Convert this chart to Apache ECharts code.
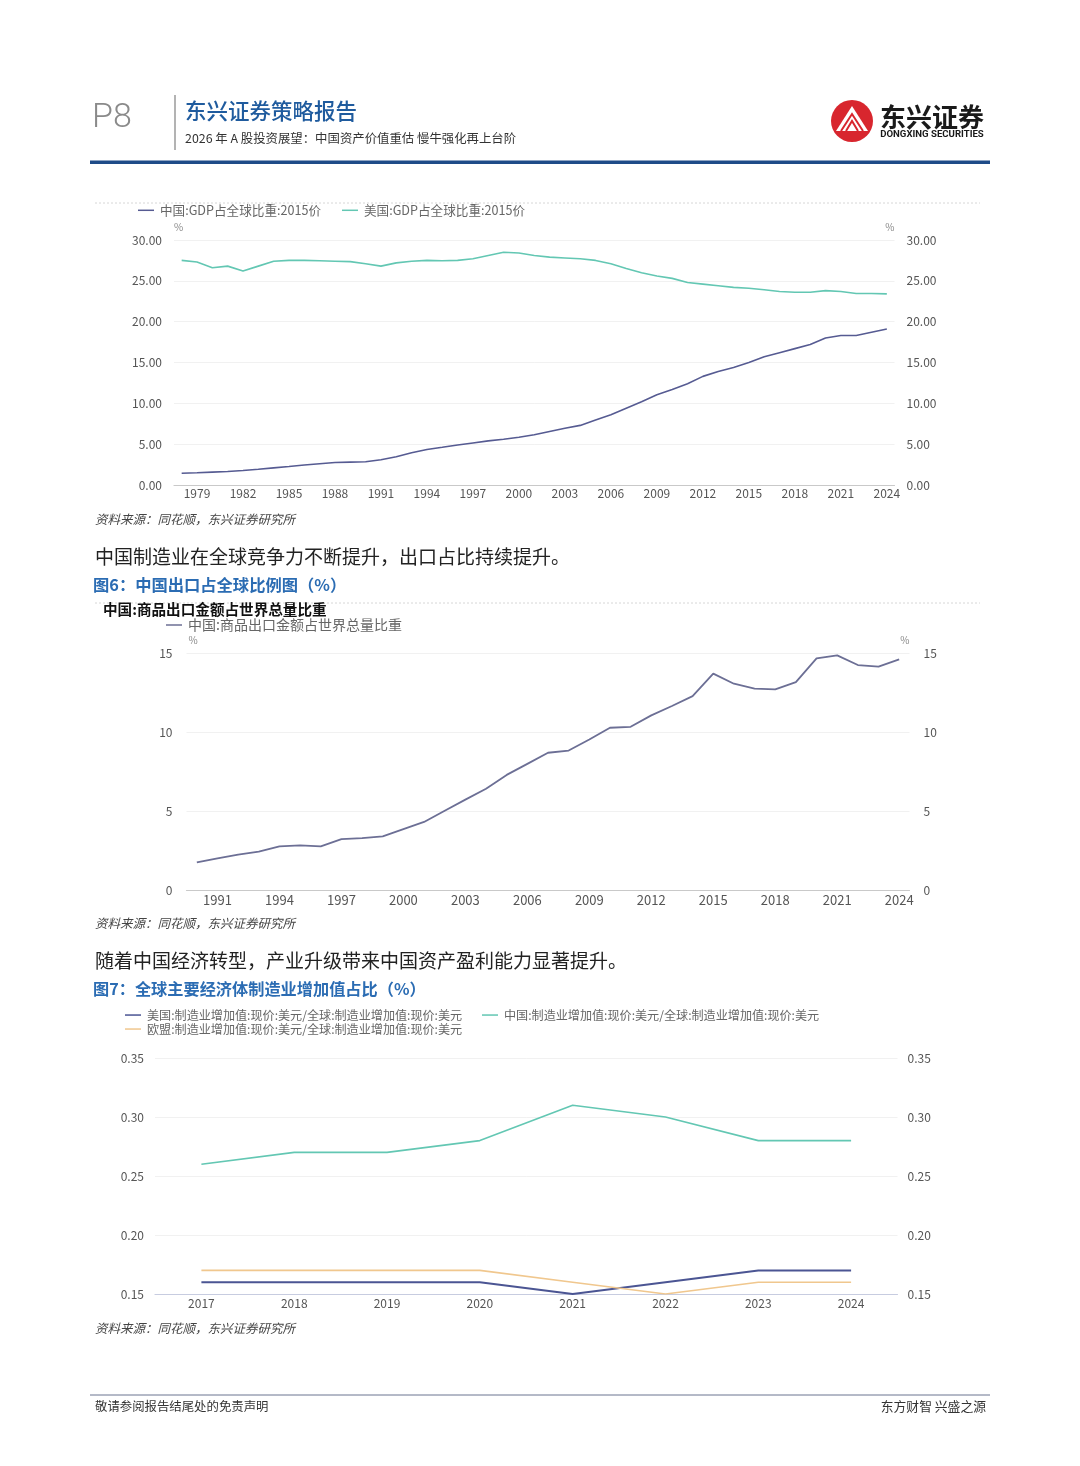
<!DOCTYPE html>
<html><head><meta charset="utf-8">
<script src="https://cdn.jsdelivr.net/npm/echarts@6/dist/echarts.min.js"></script>
<style>html,body{margin:0;padding:0;background:#fff}#c{width:1080px;height:1466px}</style>
</head><body><div id="c"></div>
<script>
// ---------- Chart 1: GDP share (2015 prices) ----------
const gdpYears = ['1978','1979','1980','1981','1982','1983','1984','1985','1986','1987','1988','1989','1990','1991','1992','1993','1994','1995','1996','1997','1998','1999','2000','2001','2002','2003','2004','2005','2006','2007','2008','2009','2010','2011','2012','2013','2014','2015','2016','2017','2018','2019','2020','2021','2022','2023','2024'];
const chinaGdpShare = [1.44,1.50,1.58,1.66,1.78,1.92,2.10,2.27,2.45,2.60,2.75,2.80,2.85,3.10,3.45,3.95,4.35,4.62,4.90,5.15,5.40,5.60,5.85,6.15,6.55,6.95,7.30,7.95,8.60,9.40,10.20,11.05,11.70,12.40,13.30,13.90,14.40,15.00,15.70,16.20,16.70,17.20,18.00,18.30,18.30,18.70,19.10];
const usGdpShare = [27.5,27.3,26.6,26.8,26.2,26.8,27.4,27.5,27.5,27.45,27.4,27.35,27.1,26.8,27.2,27.4,27.5,27.45,27.5,27.7,28.1,28.5,28.4,28.1,27.9,27.8,27.7,27.5,27.1,26.5,26.0,25.6,25.3,24.8,24.6,24.4,24.2,24.1,23.9,23.7,23.6,23.6,23.8,23.7,23.45,23.45,23.4];
// ---------- Chart 2: export share ----------
const exportYears = ['1990','1991','1992','1993','1994','1995','1996','1997','1998','1999','2000','2001','2002','2003','2004','2005','2006','2007','2008','2009','2010','2011','2012','2013','2014','2015','2016','2017','2018','2019','2020','2021','2022','2023','2024'];
const chinaExportShare = [1.77,2.03,2.26,2.45,2.79,2.85,2.79,3.25,3.31,3.42,3.88,4.33,5.04,5.74,6.43,7.30,8.00,8.70,8.84,9.54,10.28,10.34,11.06,11.65,12.28,13.70,13.06,12.75,12.70,13.16,14.66,14.85,14.24,14.14,14.60];
// ---------- Chart 3: manufacturing value-added share ----------
const mfgYears = ['2017','2018','2019','2020','2021','2022','2023','2024'];
const usMfgShare = [0.16,0.16,0.16,0.16,0.15,0.16,0.17,0.17];
const chinaMfgShare = [0.26,0.27,0.27,0.28,0.31,0.30,0.28,0.28];
const euMfgShare = [0.17,0.17,0.17,0.17,0.16,0.15,0.16,0.16];

const FONT = '"Noto Sans CJK SC","Noto Sans",sans-serif';
const C_NAVY = '#565b92', C_TEAL = '#63c7b3', C_GRAY = '#6c6f95', C_US3 = '#4b5593', C_EU = '#f0c78e';

function txt(x, y, text, o) {
  o = o || {};
  return { type: 'text', x: x, y: y, silent: true, style: {
    text: text, fill: o.fill || '#333', fontSize: o.size || 12, fontFamily: o.family || FONT,
    fontWeight: o.weight || 'normal', fontStyle: o.style || 'normal',
    textAlign: o.align || 'left', textVerticalAlign: 'middle' } };
}
function hline(x1, x2, y, color, w, dash) {
  return { type: 'line', silent: true, shape: { x1: x1, y1: y, x2: x2, y2: y },
    style: { stroke: color, lineWidth: w, lineDash: dash || null } };
}

const graphic = [
  // header
  txt(92, 118, 'P8', { size: 34, fill: '#8a8a8a', family: 'Roboto', weight: 300 }),
  { type: 'line', silent: true, shape: { x1: 175, y1: 95, x2: 175, y2: 150 }, style: { stroke: '#9a9a9a', lineWidth: 1.5 } },
  txt(185, 111, '东兴证券策略报告', { size: 21.5, fill: '#1f5b9e', weight: 500 }),
  txt(185, 138, '2026 年 A 股投资展望：中国资产价值重估 慢牛强化再上台阶', { size: 12.4, fill: '#333' }),
  // logo
  { type: 'circle', silent: true, shape: { cx: 852, cy: 121, r: 21 }, style: { fill: '#d8262e' } },
  { type: 'polygon', silent: true, shape: { points: [[836, 131], [852, 106], [868, 131]] }, style: { fill: '#fff' } },
  { type: 'polyline', silent: true, shape: { points: [[841, 131], [852, 114], [863, 131]] }, style: { stroke: '#d8262e', lineWidth: 2, fill: null } },
  { type: 'polyline', silent: true, shape: { points: [[846, 131], [852, 121], [858, 131]] }, style: { stroke: '#d8262e', lineWidth: 2, fill: null } },
  txt(932, 117, '东兴证券', { size: 26, fill: '#1a1a1a', weight: 'bold', align: 'center' }),
  txt(932, 135, 'DONGXING SECURITIES', { size: 9.6, fill: '#1a1a1a', weight: 'bold', align: 'center', family: 'Roboto' }),
  { type: 'rect', silent: true, shape: { x: 90, y: 160.5, width: 900, height: 3.5 }, style: { fill: '#1f4b88' } },
  // chart 1 frame
  hline(95, 980, 203, '#d6d6d6', 1, [2, 2]),
  txt(95, 519, '资料来源：同花顺，东兴证券研究所', { size: 12.5, fill: '#444', style: 'italic' }),
  txt(95, 557, '中国制造业在全球竞争力不断提升，出口占比持续提升。', { size: 19, fill: '#222' }),
  txt(93, 585, '图6：中国出口占全球比例图（%）', { size: 16.3, fill: '#2b6cb3', weight: 'bold' }),
  // chart 2 frame
  hline(95, 980, 603, '#d6d6d6', 1, [2, 2]),
  txt(103, 609, '中国:商品出口金额占世界总量比重', { size: 14.6, fill: '#111', weight: 'bold' }),
  txt(95, 923, '资料来源：同花顺，东兴证券研究所', { size: 12.5, fill: '#444', style: 'italic' }),
  txt(95, 961, '随着中国经济转型，产业升级带来中国资产盈利能力显著提升。', { size: 19, fill: '#222' }),
  txt(93, 989, '图7：全球主要经济体制造业增加值占比（%）', { size: 16.2, fill: '#2b6cb3', weight: 'bold' }),
  // chart 3
  txt(95, 1328, '资料来源：同花顺，东兴证券研究所', { size: 12.5, fill: '#444', style: 'italic' }),
  // footer
  hline(90, 990, 1395, '#6a7590', 1),
  txt(95, 1406, '敬请参阅报告结尾处的免责声明', { size: 12.4, fill: '#333' }),
  txt(986, 1406, '东方财智 兴盛之源', { size: 12.8, fill: '#333', align: 'right' })
];

function valAxis(grid, pos, min, max, interval, fmt, margin, showSplit, name, nameAlign, namePad) {
  return {
    type: 'value', gridIndex: grid, position: pos, min: min, max: max, interval: interval,
    name: name || '', nameLocation: 'end', nameGap: 8,
    nameTextStyle: { color: '#888', fontSize: 10, fontFamily: FONT, align: nameAlign || 'left', padding: namePad || 0 },
    axisLine: { show: false }, axisTick: { show: false },
    axisLabel: { color: '#555', fontSize: 12, fontFamily: FONT, margin: margin, formatter: fmt },
    splitLine: { show: showSplit, lineStyle: { color: '#f1f1f1', width: 1 } }
  };
}
function catAxis(grid, data, intervalFn, lineColor, margin, size) {
  return {
    type: 'category', gridIndex: grid, data: data, boundaryGap: true,
    axisLine: { show: true, lineStyle: { color: lineColor, width: 1.2 } },
    axisTick: { show: false },
    axisLabel: { color: '#555', fontSize: size, fontFamily: FONT, margin: margin, interval: intervalFn }
  };
}
function lineSeries(name, data, xi, yi, color, w) {
  return { name: name, type: 'line', xAxisIndex: xi, yAxisIndex: yi, data: data,
    showSymbol: false, symbol: 'none', smooth: false,
    lineStyle: { color: color, width: w }, itemStyle: { color: color } };
}
function legendItem(name, left, top, size) {
  return { data: [name], left: left, top: top, icon: 'rect', itemWidth: 16, itemHeight: 1.5,
    padding: 0, selectedMode: false,
    textStyle: { color: '#666', fontSize: size, fontFamily: FONT, padding: [0, 0, 0, 1] } };
}

const f2 = v => v.toFixed(2);
const N1a = '中国:GDP占全球比重:2015价', N1b = '美国:GDP占全球比重:2015价';
const N2 = '中国:商品出口金额占世界总量比重';
const N3a = '美国:制造业增加值:现价:美元/全球:制造业增加值:现价:美元';
const N3b = '中国:制造业增加值:现价:美元/全球:制造业增加值:现价:美元';
const N3c = '欧盟:制造业增加值:现价:美元/全球:制造业增加值:现价:美元';

const option = {
  animation: false,
  backgroundColor: '#fff',
  textStyle: { fontFamily: FONT },
  graphic: graphic,
  legend: [
    legendItem(N1a, 138, 204, 12.6),
    legendItem(N1b, 342, 204, 12.6),
    legendItem(N2, 166, 618, 14),
    legendItem(N3a, 125, 1009, 12.1),
    legendItem(N3b, 482, 1009, 12.1),
    legendItem(N3c, 125, 1023, 12.1)
  ],
  grid: [
    { left: 174, right: 185.5, top: 240, height: 245 },
    { left: 186.5, right: 170.5, top: 653, height: 237.5 },
    { left: 155, right: 182.5, top: 1058, height: 236 }
  ],
  xAxis: [
    catAxis(0, gdpYears, (i, v) => (parseInt(v) - 1979) % 3 === 0, '#c9c9c9', 2, 12),
    catAxis(1, exportYears, (i, v) => (parseInt(v) - 1991) % 3 === 0, '#c9c9c9', 3, 13),
    catAxis(2, mfgYears, 0, '#c7cce0', 3, 12)
  ],
  yAxis: [
    valAxis(0, 'left', 0, 30, 5, f2, 12, true, '%', 'left', [0, 0, 0, 0]),
    valAxis(0, 'right', 0, 30, 5, f2, 12, false, '%', 'right', [0, 0, 0, 0]),
    valAxis(1, 'left', 0, 15, 5, v => String(v), 14, true, '%', 'left', [0, 0, 0, 2]),
    valAxis(1, 'right', 0, 15, 5, v => String(v), 14, false, '%', 'right', [0, 0, 0, 0]),
    valAxis(2, 'left', 0.15, 0.35, 0.05, f2, 11, true),
    valAxis(2, 'right', 0.15, 0.35, 0.05, f2, 10, false)
  ],
  series: [
    lineSeries(N1a, chinaGdpShare, 0, 0, C_NAVY, 1.6),
    lineSeries(N1b, usGdpShare, 0, 0, C_TEAL, 1.6),
    lineSeries(N2, chinaExportShare, 1, 2, C_GRAY, 1.8),
    lineSeries(N3a, usMfgShare, 2, 4, C_US3, 2),
    lineSeries(N3b, chinaMfgShare, 2, 4, C_TEAL, 1.6),
    lineSeries(N3c, euMfgShare, 2, 4, C_EU, 1.6)
  ]
};

const chart = echarts.init(document.getElementById('c'), null, { renderer: 'canvas' });
chart.setOption(option);
</script>
</body></html>
